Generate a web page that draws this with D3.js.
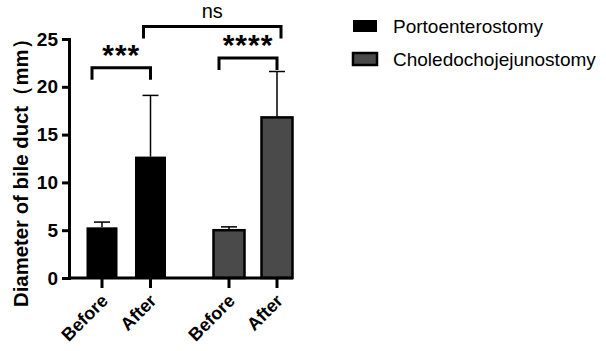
<!DOCTYPE html>
<html>
<head>
<meta charset="utf-8">
<script src="https://cdn.jsdelivr.net/npm/d3@7"></script>
<style>
  body { margin: 0; background: #fff; }
  text { font-family: "Liberation Sans", Arial, sans-serif; }
</style>
</head>
<body>
<div id="chart"></div>
<script>
// data
const groups = ["Portoenterostomy", "Choledochojejunostomy"];
const categories = ["Before", "After", "Before ", "After "];
const barGroup = [0, 0, 1, 1];
const means = [5.3, 12.7, 5.0, 16.8];
const sdUpper = [5.85, 19.1, 5.35, 21.6];
const yTicks = [0, 5, 10, 15, 20, 25];
const colors = ["#000000", "#4a4a4a"];
// significance brackets
const sigs = [
  { a: 0, b: 1, label: "***", y: 22.0 },
  { a: 2, b: 3, label: "****", y: 23.0 },
  { a: 1, b: 3, label: "ns", y: 26.3 }
];

const W = 606, H = 351;
const svg = d3.select("#chart").append("svg")
  .attr("width", W).attr("height", H);

const y = d3.scaleLinear().domain([0, 25]).range([278, 39]);
// bar centres: two groups with a gap in between
const x = d3.scaleOrdinal().domain(categories).range([102, 150.5, 229, 277]);
const bw = 31;
const xc = (i) => x(categories[i]);

// bars
svg.selectAll("rect.bar").data(means).enter().append("rect")
  .attr("class", "bar")
  .attr("x", (d, i) => xc(i) - bw / 2)
  .attr("y", (d) => y(d))
  .attr("width", bw)
  .attr("height", (d) => y(0) - y(d))
  .attr("fill", (d, i) => colors[barGroup[i]])
  .attr("stroke", "#000")
  .attr("stroke-width", (d, i) => barGroup[i] ? 2.5 : 0);

// error bars (upper only)
svg.selectAll("g.err").data(means).enter().append("g")
  .each(function (d, i) {
    const g = d3.select(this);
    g.append("line")
      .attr("x1", xc(i)).attr("x2", xc(i))
      .attr("y1", y(d)).attr("y2", y(sdUpper[i]))
      .attr("stroke", "#000").attr("stroke-width", 1.5);
    g.append("line")
      .attr("x1", xc(i) - 8).attr("x2", xc(i) + 8)
      .attr("y1", y(sdUpper[i])).attr("y2", y(sdUpper[i]))
      .attr("stroke", "#000").attr("stroke-width", 1.5);
  });

// y axis
const yAxis = svg.append("g")
  .attr("transform", "translate(69,0)")
  .call(d3.axisLeft(y).tickValues(yTicks).tickSize(7).tickPadding(4));
yAxis.select(".domain").attr("stroke-width", 3);
yAxis.selectAll(".tick line").attr("stroke-width", 3);
yAxis.selectAll(".tick text")
  .attr("font-family", "Liberation Sans, Arial, sans-serif")
  .attr("font-size", 19).attr("font-weight", "bold").attr("fill", "#000");

// x axis
svg.append("line")
  .attr("x1", 68).attr("x2", 293)
  .attr("y1", y(0)).attr("y2", y(0))
  .attr("stroke", "#000").attr("stroke-width", 3);
categories.forEach((c, i) => {
  svg.append("line")
    .attr("x1", xc(i)).attr("x2", xc(i))
    .attr("y1", y(0)).attr("y2", y(0) + 10)
    .attr("stroke", "#000").attr("stroke-width", 3);
  svg.append("text")
    .attr("transform", `translate(${xc(i) + 7},${y(0) + 24}) rotate(-45)`)
    .attr("text-anchor", "end")
    .attr("font-size", 18).attr("font-weight", "bold")
    .text(c.trim());
});

// y title
svg.append("text")
  .attr("transform", `translate(28,${(28 + 308) / 2}) rotate(-90)`)
  .attr("text-anchor", "middle")
  .attr("font-size", 21).attr("font-weight", "bold")
  .attr("textLength", 278).attr("lengthAdjust", "spacingAndGlyphs")
  .text("Diameter of bile duct（mm）");

// significance brackets
sigs.forEach((s) => {
  const ns = s.label === "ns";
  const x1 = ns ? xc(s.a) - 7 : xc(s.a) - 10;
  const x2 = ns ? xc(s.b) + 4 : xc(s.b);
  const yy = y(s.y);
  svg.append("path")
    .attr("d", `M${x1},${yy + 12}V${yy}H${x2}V${yy + 12}`)
    .attr("fill", "none").attr("stroke", "#000").attr("stroke-width", 3);
  svg.append("text")
    .attr("x", (x1 + x2) / 2)
    .attr("y", ns ? yy - 9 : yy - 3)
    .attr("text-anchor", "middle")
    .attr("font-size", ns ? 20 : 30)
    .attr("font-weight", ns ? "normal" : "bold")
    .attr("letter-spacing", ns ? 0 : 1)
    .text(s.label);
});

// legend
groups.forEach((g, i) => {
  const ly = 20 + i * 33;
  svg.append("rect")
    .attr("x", 353).attr("y", ly)
    .attr("width", 24).attr("height", 12)
    .attr("fill", colors[i])
    .attr("stroke", "#000").attr("stroke-width", i ? 2.5 : 0);
  svg.append("text")
    .attr("x", 393).attr("y", ly + 13)
    .attr("font-size", 19)
    .text(g);
});
</script>
</body>
</html>
